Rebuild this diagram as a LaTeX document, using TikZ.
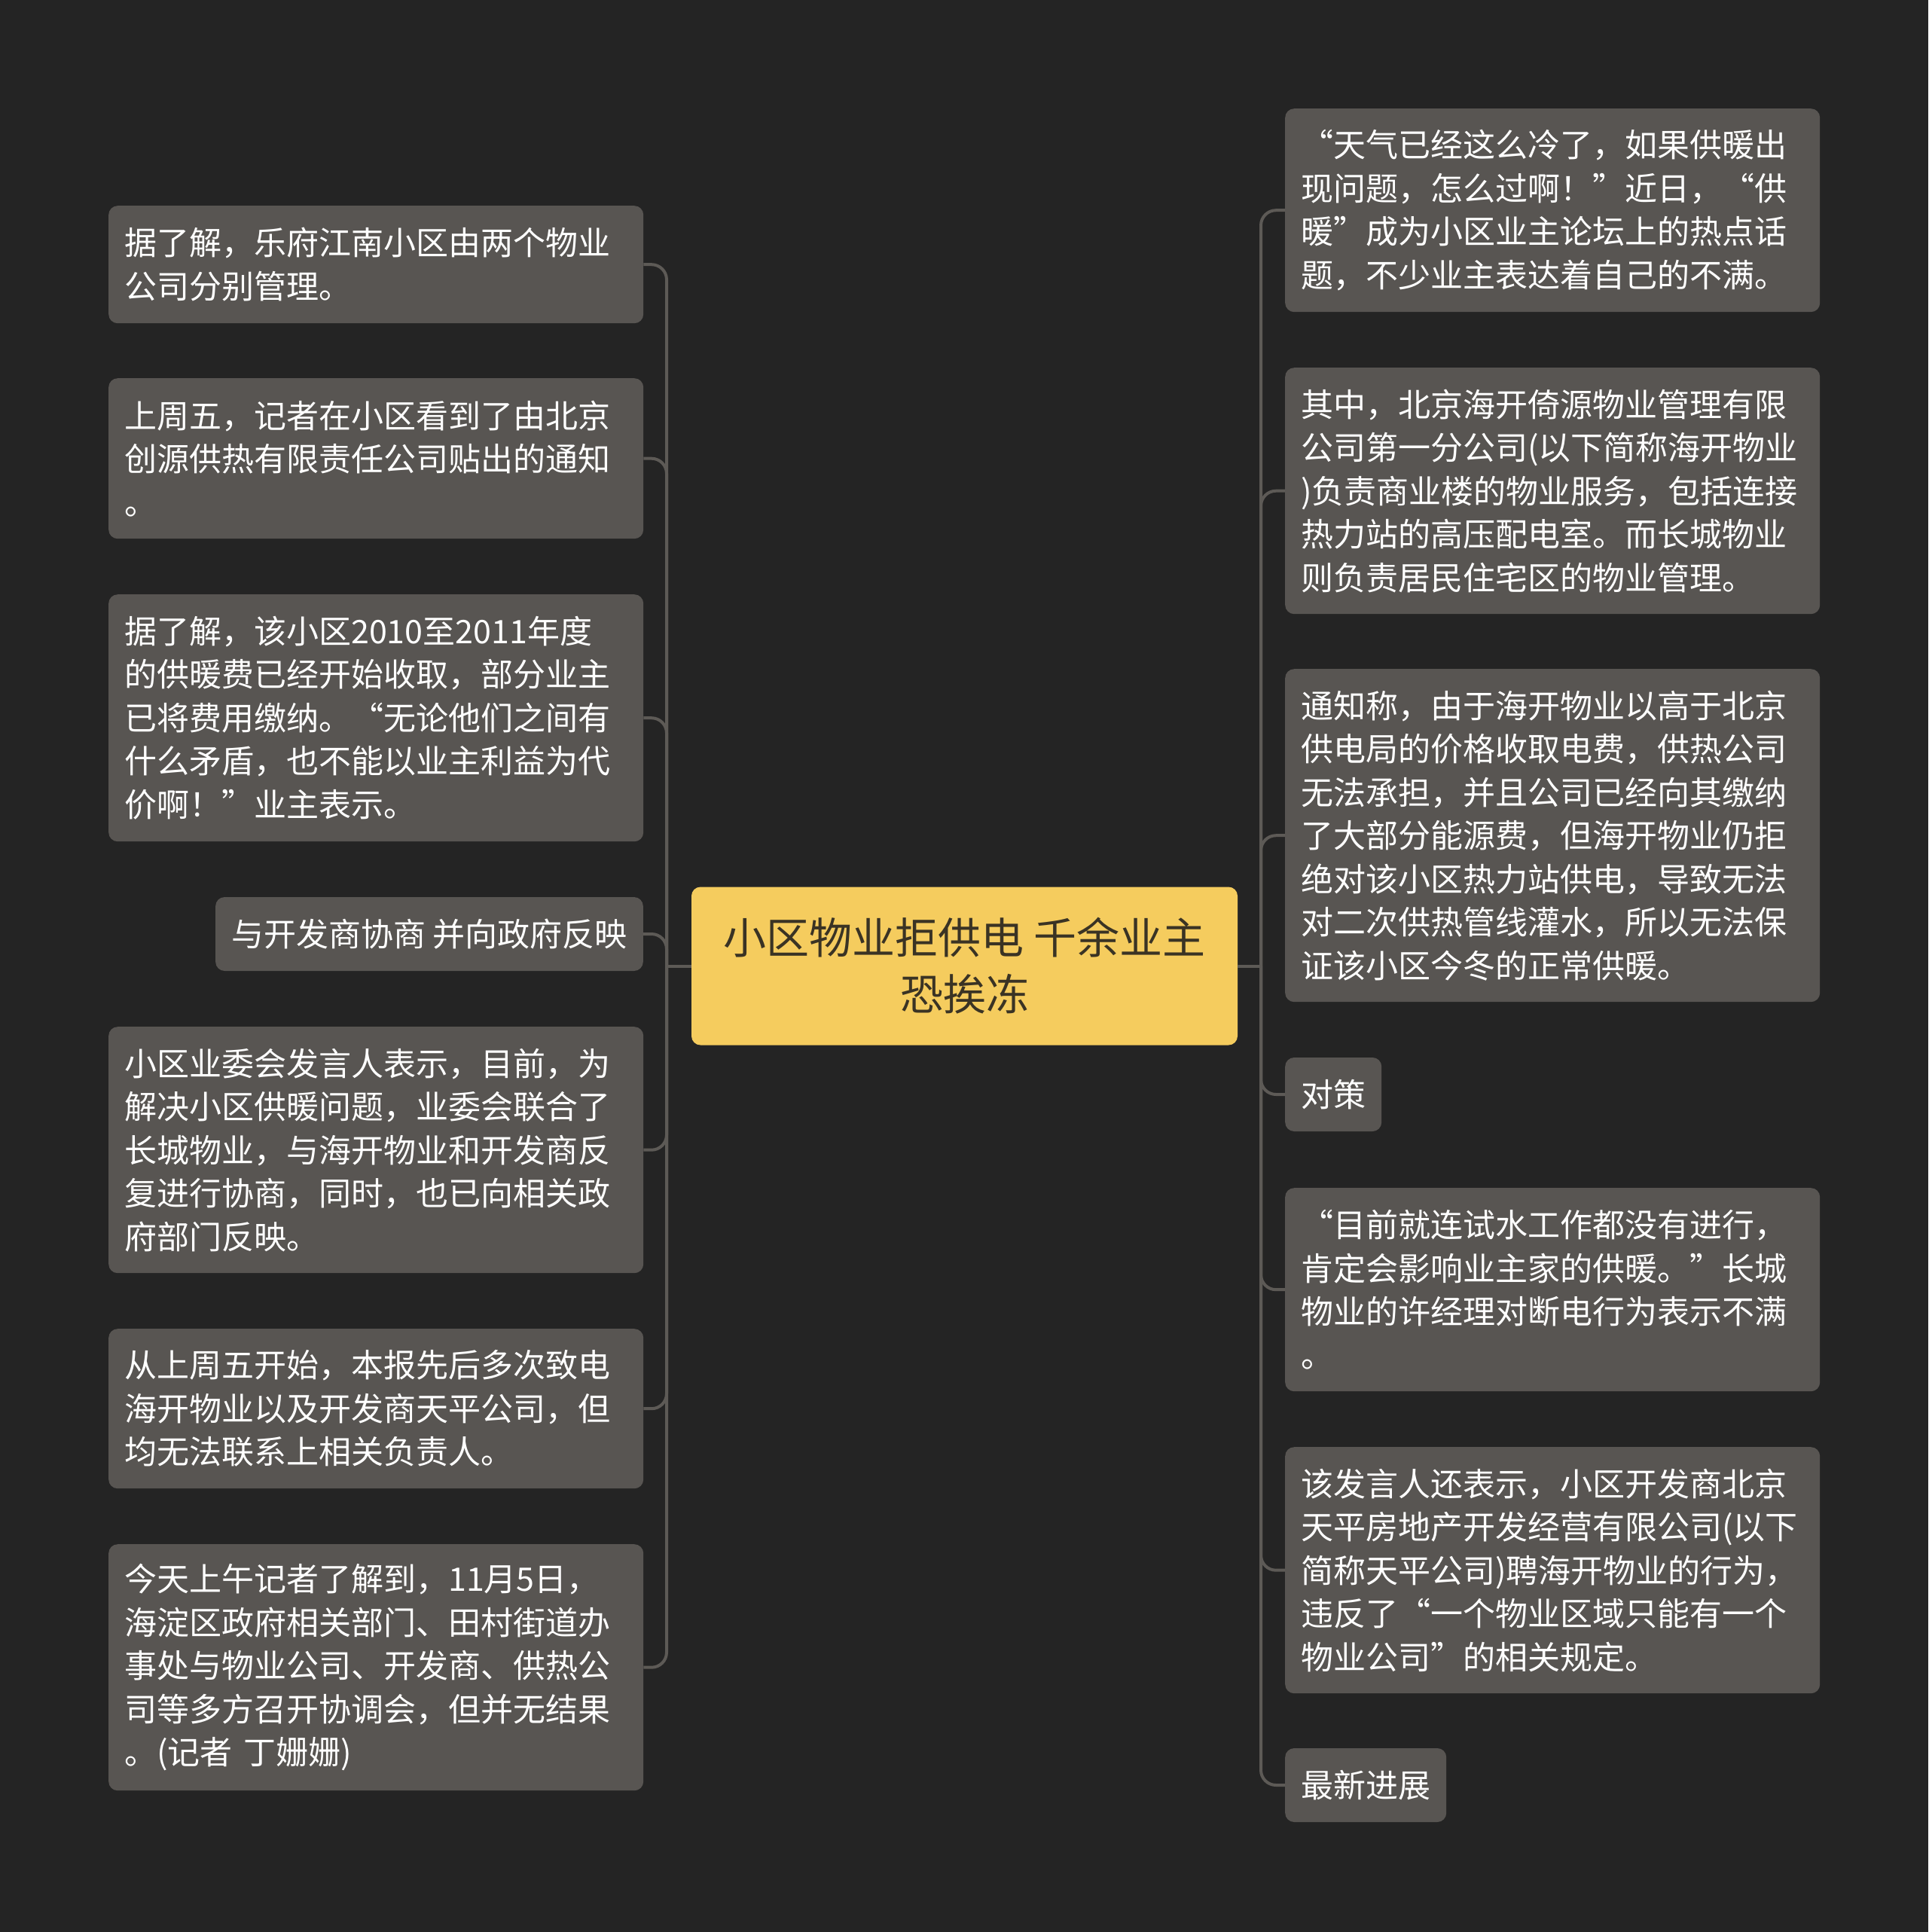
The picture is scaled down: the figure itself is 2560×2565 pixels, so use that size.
\documentclass[tikz,border=0pt]{standalone}
\usepackage{fontspec}
\setmainfont{Noto Sans CJK SC}
\definecolor{bgc}{HTML}{242424}
\definecolor{boxc}{HTML}{585552}
\definecolor{linec}{HTML}{5D5A56}
\definecolor{centc}{HTML}{F5CC5E}
\definecolor{centt}{HTML}{3A3324}
\begin{document}
\begin{tikzpicture}[x=1pt,y=-1pt,
  box/.style={fill=boxc, rounded corners=12pt, text=white,
    font=\fontsize{43}{57.5}\selectfont, inner xsep=21pt, inner ysep=0pt,
    align=left, text width=668pt, minimum width=710pt, anchor=north west},
  sbox/.style={fill=boxc, rounded corners=12pt, text=white,
    font=\fontsize{43}{57.5}\selectfont, inner xsep=21pt, inner ysep=0pt,
    minimum height=98pt},
  centbox/.style={fill=centc, rounded corners=12pt, text=centt,
    font=\fontsize{57}{75}\selectfont, align=center, inner sep=0pt,
    minimum width=725pt, minimum height=210pt},
  conn/.style={draw=linec, line width=4pt, rounded corners=20pt}]
\path[fill=bgc] (0,0) rectangle (2560,2565);

\node[centbox] (C) at (1280.5,1282.5) {小区物业拒供电 千余业主\\恐挨冻};

% left
\node[box, minimum height=156pt] (L1) at (144,273) {据了解，乐府江南小区由两个物业\\公司分别管理。};
\node[box, minimum height=213pt] (L2) at (144,502) {上周五，记者在小区看到了由北京\\创源供热有限责任公司贴出的通知\\。};
\node[box, minimum height=328pt] (L3) at (144,789) {据了解，该小区2010至2011年度\\的供暖费已经开始收取，部分业主\\已将费用缴纳。“无论他们之间有\\什么矛盾，也不能以业主利益为代\\价啊！”业主表示。};
\node[sbox, anchor=east] (L4) at (854,1240) {与开发商协商 并向政府反映};
\node[box, minimum height=327pt] (L5) at (144,1363) {小区业委会发言人表示，目前，为\\解决小区供暖问题，业委会联合了\\长城物业，与海开物业和开发商反\\复进行协商，同时，也已向相关政\\府部门反映。};
\node[box, minimum height=212pt] (L6) at (144,1764) {从上周五开始，本报先后多次致电\\海开物业以及开发商天平公司，但\\均无法联系上相关负责人。};
\node[box, minimum height=327pt] (L7) at (144,2050) {今天上午记者了解到，11月5日，\\海淀区政府相关部门、田村街道办\\事处与物业公司、开发商、供热公\\司等多方召开协调会，但并无结果\\。(记者 丁姗姗)};

% right
\node[box, minimum height=270pt] (R1) at (1706,144) {“天气已经这么冷了，如果供暖出\\现问题，怎么过啊！”近日，“供\\暖”成为小区业主论坛上的热点话\\题，不少业主表达着自己的不满。};
\node[box, minimum height=327pt] (R2) at (1706,488) {其中，北京海开倚源物业管理有限\\公司第一分公司(以下简称海开物业\\)负责商业楼的物业服务，包括连接\\热力站的高压配电室。而长城物业\\则负责居民住宅区的物业管理。};
\node[box, minimum height=442pt] (R3) at (1706,888) {通知称，由于海开物业以高于北京\\供电局的价格收取电费，供热公司\\无法承担，并且公司已经向其缴纳\\了大部分能源费，但海开物业仍拒\\绝对该小区热力站供电，导致无法\\对二次供热管线灌水，所以无法保\\证该小区今冬的正常供暖。};
\node[sbox, anchor=west] (R4) at (1706,1453) {对策};
\node[box, minimum height=270pt] (R5) at (1706,1577) {“目前就连试水工作都没有进行，\\肯定会影响业主家的供暖。”长城\\物业的许经理对断电行为表示不满\\。};
\node[box, minimum height=327pt] (R6) at (1706,1921) {该发言人还表示，小区开发商北京\\天平房地产开发经营有限公司(以下\\简称天平公司)聘海开物业的行为，\\违反了“一个物业区域只能有一个\\物业公司”的相关规定。};
\node[sbox, anchor=west] (R7) at (1706,2370) {最新进展};

% connectors
\coordinate (jl) at (885,1283);
\coordinate (jr) at (1674,1283);
\draw[conn] (C.west |- jl) -- (jl);
\draw[conn] (C.east |- jr) -- (jr);
\foreach \n in {L1,L2,L3,L4,L5,L6,L7} {\draw[conn] (jl) |- (\n.east);}
\foreach \n in {R1,R2,R3,R4,R5,R6,R7} {\draw[conn] (jr) |- (\n.west);}
\end{tikzpicture}
\end{document}
